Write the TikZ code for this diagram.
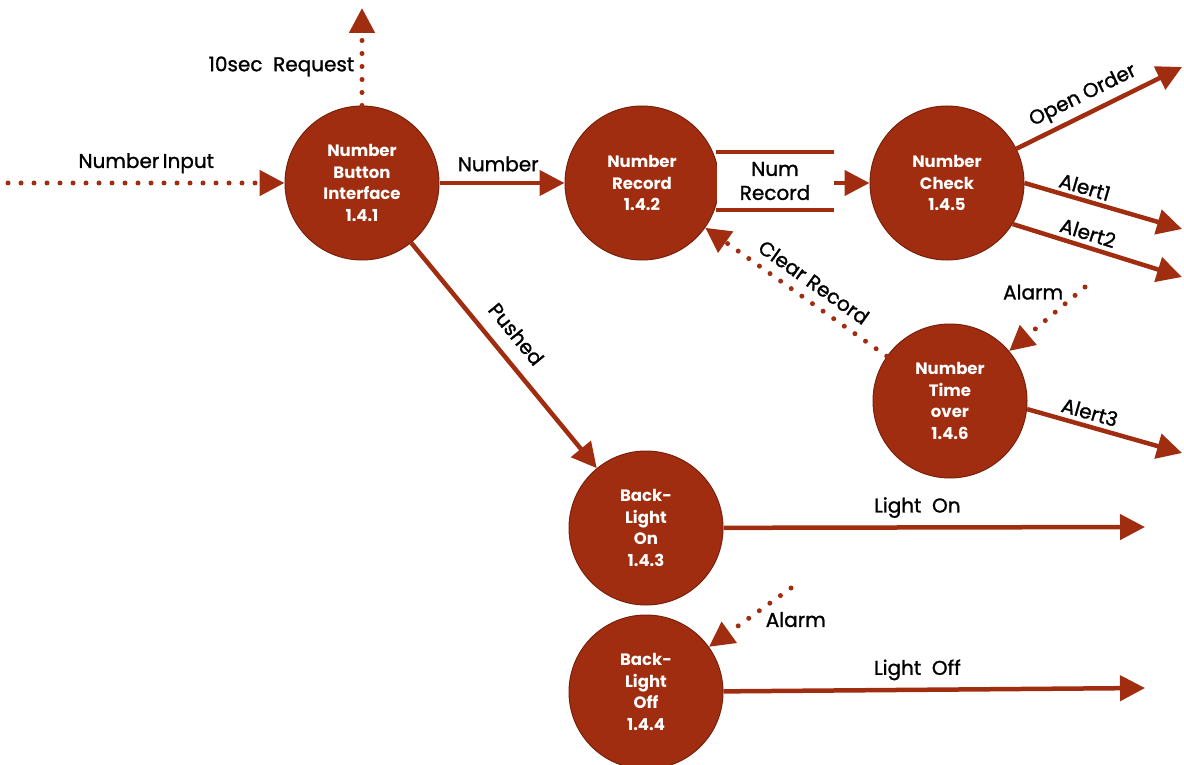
\documentclass[tikz,border=0pt]{standalone}
\usepackage{fontspec}
\setmainfont{Poppins}
\newfontfamily\lblfont{Poppins}[FakeBold=1.2]
\usetikzlibrary{arrows.meta,shapes.geometric,positioning}

\definecolor{rust}{RGB}{161,45,16}
\definecolor{rustdark}{RGB}{120,33,12}

\begin{document}
\begin{tikzpicture}[
        x=1pt, y=-1pt,
        every node/.style={align=center, text=black, font=\lblfont\fontsize{20}{24}\selectfont},
        process/.style={circle, draw=rustdark, line width=1pt, fill=rust, text=white, minimum size=154pt, inner sep=0pt, font=\bfseries\fontsize{16.5}{21.5}\selectfont},
        flow/.style={draw=rust, line width=4.5pt, -{Triangle[length=25pt,width=25pt]}},
        signal/.style={flow, line width=5pt, line cap=round, dash pattern=on 0pt off 13pt},
        store/.style={fill=white, minimum width=117pt, minimum height=58pt, inner sep=0pt}
    ]
    \useasboundingbox (0,0) rectangle (1184,765);

    % Nodes
    \node (button)[process] at (362,183) {Number \\ Button \\ Interface \\ 1.4.1};
    \node (record)[process, right=125pt of button] {Number \\ Record \\ 1.4.2};
    \node (check)[process, right=150pt of record] {Number \\ Check \\ 1.4.5};
    \node (timeover)[process, below=63pt of check, xshift=3pt] {Number \\ Time \\ over \\ 1.4.6};
    \node (bkon)[process] at (646,528) {Back- \\ Light \\ On \\ 1.4.3};
    \node (bkoff)[process, below=9pt of bkon] {Back- \\ Light \\ Off \\ 1.4.4};

    % free ends
    \coordinate (inp) at (8,183);
    \coordinate (req) at (362,8);
    \coordinate (order) at (1182,67);
    \coordinate (alert1) at (1182,229);
    \coordinate (alert2) at (1182,277);
    \coordinate (alert3) at (1182,453);
    \coordinate (alarmA) at (1085,287);
    \coordinate (alarmB) at (791,588);
    \coordinate (lighton) at (1145,527);
    \coordinate (lightoff) at (1145,688);

    % Edges
    \draw[signal] (inp) -- node[above=4pt] {Number\,Input} (button);
    \draw[signal] (button) -- node[left=2pt, pos=0.4] {10sec~ Request} (req);
    \draw[flow] (button) -- node[above=6pt, pos=0.47] {Number} (record);
    \draw[flow] (record) -- (check);
    \node (numrec)[store] at (775,181) {Num \\ Record};
    \draw[rust, line width=4pt] (numrec.north west) -- (numrec.north east)
        (numrec.south west) -- (numrec.south east);
    \draw[flow] (check) -- node[above=2pt, sloped, pos=0.45] {Open Order} (order);
    \draw[flow] (check.east) -- node[above=0pt, sloped, pos=0.36] {Alert1} (alert1);
    \draw[flow] (check.-32) -- node[above=1pt, sloped, pos=0.42] {Alert2} (alert2);
    \draw[signal] (alarmA) -- node[left=10pt, pos=0.08] {Alarm} (timeover);
    \draw[signal] (timeover) -- node[above=5pt, sloped, pos=0.46] {Clear Record} (record);
    \draw[flow] (timeover.-6) -- node[above=1pt, sloped, pos=0.38] {Alert3} (alert3);
    \draw[flow] (button) -- node[above=10pt, sloped, pos=0.47] {Pushed} (bkon);
    \draw[flow] (bkon) -- node[above=4pt, pos=0.46] {Light~ On} (lighton);
    \draw[signal] (alarmB) -- node[below right, pos=0.35, inner sep=1pt] {Alarm} (bkoff);
    \draw[flow] (bkoff) -- node[above=4pt, pos=0.46] {Light~ Off} (lightoff);

\end{tikzpicture}
\end{document}
